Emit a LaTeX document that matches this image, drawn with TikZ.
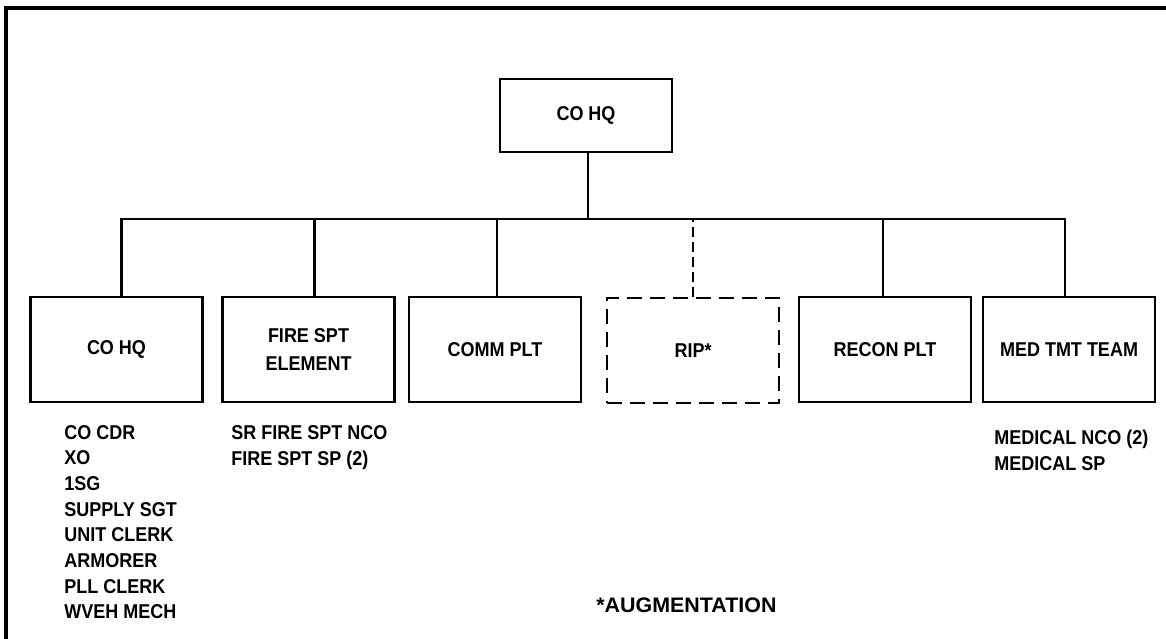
\documentclass[tikz,border=0pt]{standalone}
\usepackage{fontspec}
\setmainfont{Liberation Sans}[FakeStretch=0.9]
\newfontfamily\notefont{Liberation Sans}[FakeStretch=1.02]
\usetikzlibrary{positioning, calc}

\begin{document}
\begin{tikzpicture}[x=1pt, y=-1pt, line width=2.8pt,
    unit/.style={draw, minimum width=172pt, minimum height=105pt, align=center,
      font=\bfseries\fontsize{20}{28}\selectfont},
    augunit/.style={unit, dash pattern=on 15pt off 8pt},
    staff/.style={anchor=base west, inner sep=0pt, font=\bfseries\fontsize{20}{23}\selectfont}]
  \useasboundingbox (0,0) rectangle (1166,639);
  \draw[line width=4pt] (6,639) -- (6,8.5) -- (1166,8.5);
  \node[unit, minimum height=73pt] (top) at (586,115.5) {CO HQ};
  \foreach \n/\x/\t in {hq/116.5/CO HQ, fire/308.5/{FIRE SPT\\ELEMENT}, comm/495/COMM PLT,
      recon/885/RECON PLT, med/1069/MED TMT TEAM}
    \node[unit] (\n) at (\x,349.5) {\t};
  \node[augunit] (rip) at (693,350.5) {RIP*};
  % lines
  \coordinate (split) at (588,219);
  \draw (top.south -| split) -- (split);
  \draw ([xshift=5pt]hq.north) |- (split) -| ([xshift=-4pt]med.north);
  \foreach \n/\s in {fire/6pt,comm/2pt,recon/-2pt} \draw ([xshift=\s]\n.north) -- ([xshift=\s]\n.north |- split);
  \draw[dash pattern=on 10pt off 5pt] (rip.north) -- (rip.north |- split);
  % staff lists
  \foreach \t [count=\i from 0] in {CO CDR, XO, 1SG, SUPPLY SGT, UNIT CLERK, ARMORER, PLL CLERK, WVEH MECH}
    \node[staff] (hq\i) at (63,439+25.7*\i) {\t};
  \foreach \t [count=\i from 0] in {SR FIRE SPT NCO, FIRE SPT SP (2)}
    \node[staff] (fire\i) at (230,439+26*\i) {\t};
  \foreach \t [count=\i from 0] in {MEDICAL NCO (2), MEDICAL SP}
    \node[staff] (med\i) at (993,444+26*\i) {\t};
  \node[staff, font=\notefont\bfseries\fontsize{21}{25}\selectfont] (note) at (595,612) {*AUGMENTATION};
\end{tikzpicture}
\end{document}
